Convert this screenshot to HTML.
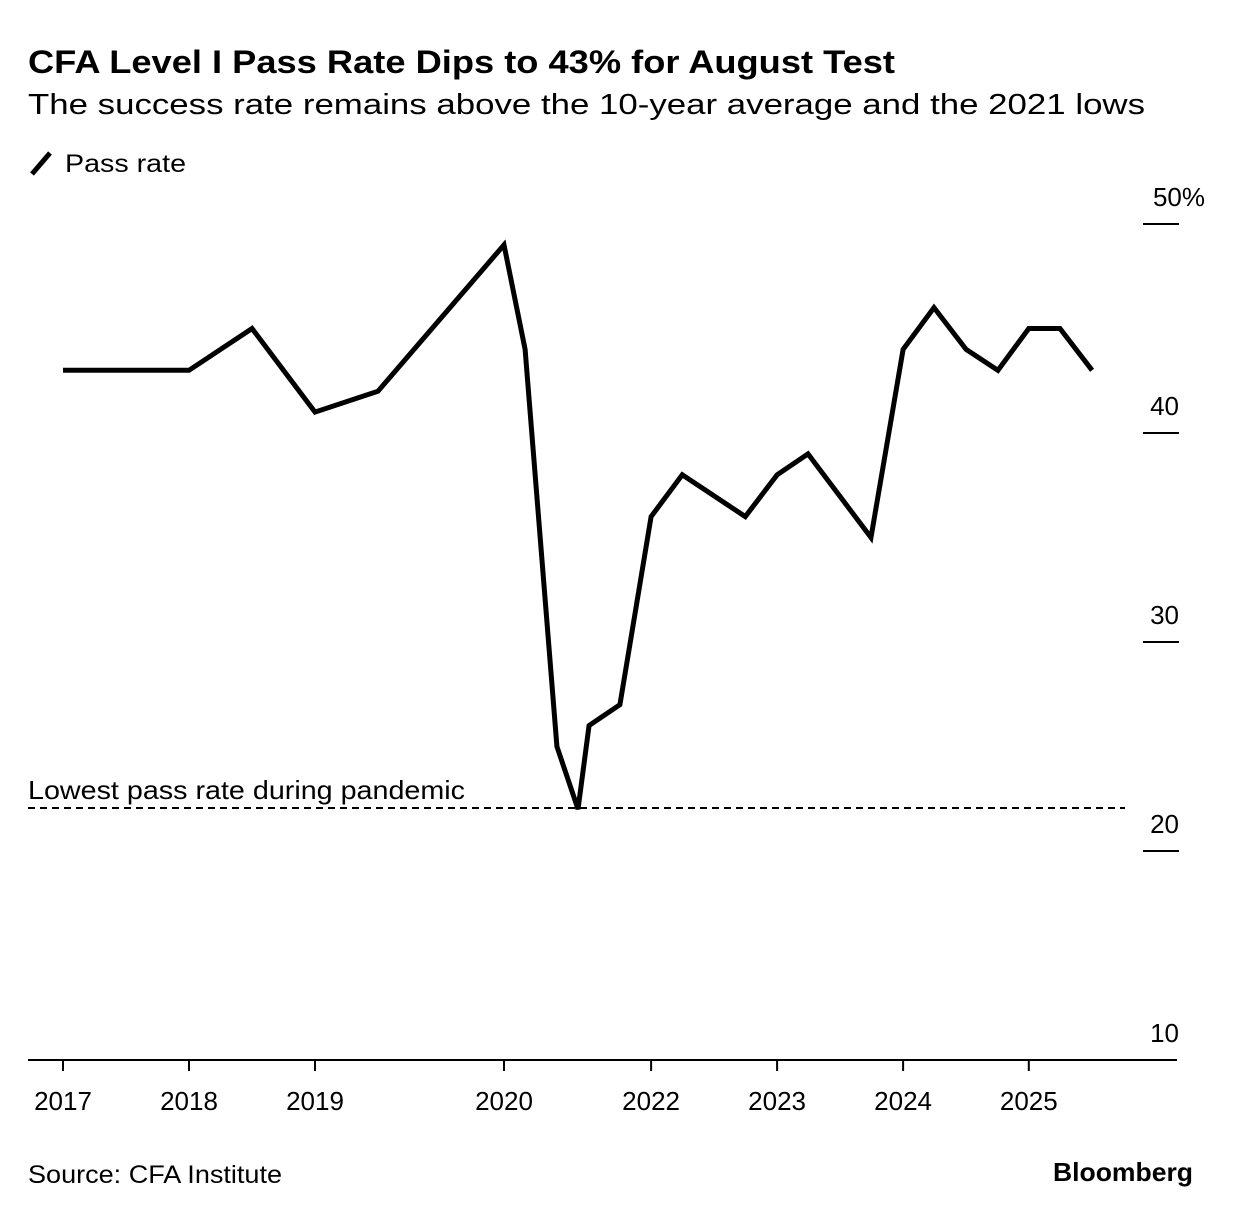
<!DOCTYPE html>
<html><head><meta charset="utf-8"><style>
body{margin:0;background:#fff;font-family:"Liberation Sans",sans-serif;}
svg{display:block}
</style></head><body>
<svg id="chart" width="1233" height="1216">
<text x="28" y="73" font-size="32" font-weight="bold" fill="#000" textLength="867" lengthAdjust="spacingAndGlyphs">CFA Level I Pass Rate Dips to 43% for August Test</text>
<text x="28" y="114" font-size="29" fill="#000" textLength="1117" lengthAdjust="spacingAndGlyphs">The success rate remains above the 10-year average and the 2021 lows</text>
<line x1="32" y1="174" x2="50" y2="153" stroke="#000" stroke-width="5"/>
<text x="65" y="172" font-size="25" fill="#000" textLength="121" lengthAdjust="spacingAndGlyphs">Pass rate</text>
<g id="yaxis"></g><g id="xaxis"></g>
<line x1="28" y1="808" x2="1125" y2="808" stroke="#000" stroke-width="2" stroke-dasharray="7,5"/>
<text x="28" y="799" font-size="26" fill="#000" textLength="437" lengthAdjust="spacingAndGlyphs">Lowest pass rate during pandemic</text>
<path id="line" fill="none" stroke="#000" stroke-width="5" stroke-linejoin="miter"/>
<text x="28" y="1183" font-size="25" fill="#000" textLength="254" lengthAdjust="spacingAndGlyphs">Source: CFA Institute</text>
<text x="1053" y="1181" font-size="26" font-weight="bold" fill="#000" textLength="140" lengthAdjust="spacingAndGlyphs">Bloomberg</text>
</svg>
<script>
const sessions=[0,4,6,8,10,14,14.67,15.68,16.35,16.7,17.68,18.67,19.66,21.66,22.67,23.65,25.65,26.67,27.65,28.67,29.68,30.66,31.65,32.67];
const rates=[43,43,45,41,42,49,44,25,22,26,27,36,38,36,38,39,35,44,46,44,43,45,45,43];
const xTickPos=[0,4,8,14,18.67,22.67,26.67,30.66];
const xTickLabels=["2017","2018","2019","2020","2022","2023","2024","2025"];
const yTicks=[50,40,30,20,10];
const yTickLabels=["50%","40","30","20","10"];
const NS="http://www.w3.org/2000/svg";
const x=v=>63+v*31.5;
const y=v=>1060-(v-10)*20.9;
function mk(tag,attrs,parent,txt){const e=document.createElementNS(NS,tag);for(const k in attrs)e.setAttribute(k,attrs[k]);if(txt!==undefined)e.textContent=txt;parent.appendChild(e);return e;}
const ya=document.getElementById('yaxis');
yTicks.forEach((t,i)=>{
  if(t>10){const l=mk('line',{x1:1143,x2:1179,y1:y(t),y2:y(t),stroke:'#000','stroke-width':2},ya);
  
  }
  const tx=mk('text',{x:t===50?1205:1179,y:y(t)-18,'font-size':26,'text-anchor':'end',fill:'#000'},ya,yTickLabels[i]);
  
  
});
const xa=document.getElementById('xaxis');
const ax=mk('line',{x1:28,x2:1177,y1:1060,y2:1060,stroke:'#000','stroke-width':2},xa);


xTickPos.forEach((p,i)=>{
  const l=mk('line',{x1:x(p),x2:x(p),y1:1060,y2:1071,stroke:'#000','stroke-width':2},xa);
  
  
  const t=mk('text',{x:x(p),y:1110,'font-size':26,'text-anchor':'middle',fill:'#000'},xa,xTickLabels[i]);
  
  
});
document.getElementById('line').setAttribute('d',sessions.map((s,i)=>(i?'L':'M')+x(s)+','+y(rates[i])).join(' '));
</script>
</body></html>
